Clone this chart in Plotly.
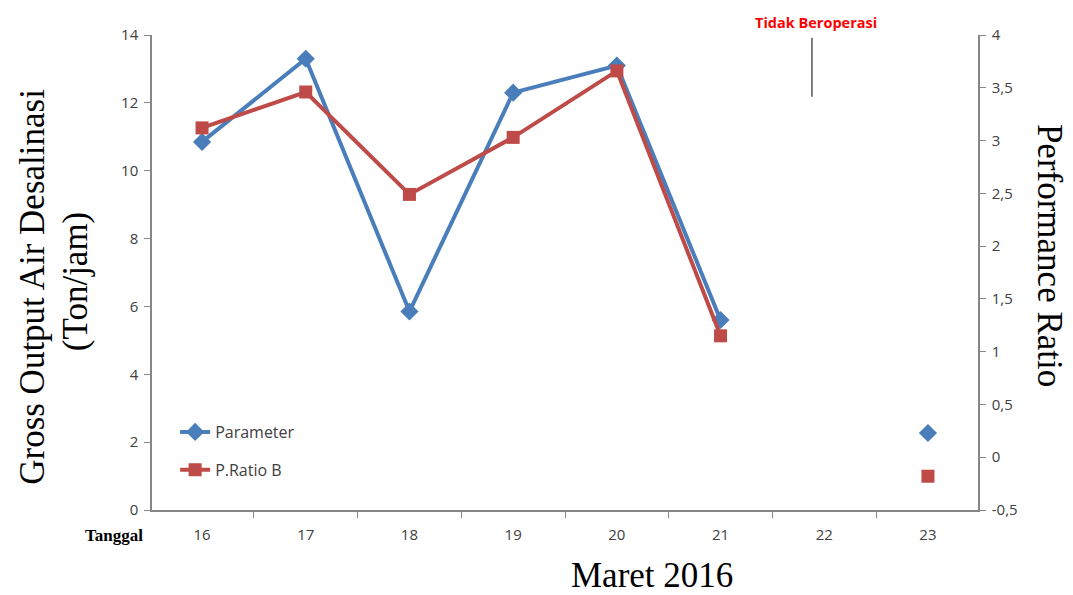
import plotly.graph_objects as go

categories = ["16", "17", "18", "19", "20", "21", "22", "23"]
parameter = [10.85, 13.3, 5.85, 12.3, 13.1, 5.6, None, 2.27]
p_ratio_b = [3.12, 3.46, 2.49, 3.03, 3.66, 1.15, None, -0.18]

left_ticks = [0, 2, 4, 6, 8, 10, 12, 14]
right_tickvals = [-0.5, 0, 0.5, 1, 1.5, 2, 2.5, 3, 3.5, 4]
right_ticktext = ["-0,5", "0", "0,5", "1", "1,5", "2", "2,5", "3", "3,5", "4"]

BLUE = "#4A7EBB"
RED = "#BE4B48"
AXIS = "#868686"
TICKFONT = dict(family="Open Sans, Lato, sans-serif", size=15, color="#404040")

fig = go.Figure()
fig.add_trace(go.Scatter(
    x=categories, y=parameter, name="Parameter", mode="lines+markers", legendgroup="a",
    line=dict(color=BLUE, width=4), marker=dict(symbol="diamond", size=14, color=BLUE),
    connectgaps=False, yaxis="y"))
fig.add_trace(go.Scatter(
    x=categories, y=p_ratio_b, name="P.Ratio B", mode="lines+markers", legendgroup="b",
    line=dict(color=RED, width=4), marker=dict(symbol="square", size=13, color=RED),
    connectgaps=False, yaxis="y2"))

fig.update_layout(
    width=1073, height=595,
    margin=dict(l=144, r=103, t=27, b=93),
    plot_bgcolor="white", paper_bgcolor="white",
    showlegend=True,
    legend=dict(x=0.028, y=0.2, xanchor="left", yanchor="top", traceorder="grouped",
                font=dict(family="Open Sans, Lato, sans-serif", size=16, color="#404040"),
                bgcolor="rgba(0,0,0,0)", tracegroupgap=14),
    xaxis=dict(type="category", showgrid=False, showline=True, linecolor=AXIS, linewidth=1.5,
               ticks="outside", tickson="boundaries", ticklen=6, tickcolor=AXIS,
               tickfont=TICKFONT, zeroline=False, ticklabelstandoff=10),
    yaxis=dict(range=[0, 14], tickvals=left_ticks, showgrid=False, showline=True,
               linecolor=AXIS, linewidth=1.5, ticks="outside", ticklen=6, tickcolor=AXIS,
               tickfont=TICKFONT, zeroline=False, ticklabelstandoff=3),
    yaxis2=dict(range=[-0.5, 4], tickvals=right_tickvals, ticktext=right_ticktext,
                overlaying="y", side="right", showgrid=False, showline=True,
                linecolor=AXIS, linewidth=1.5, ticks="outside", ticklen=6, tickcolor=AXIS,
                tickfont=TICKFONT, zeroline=False, ticklabelstandoff=3),
)

serif = "Liberation Serif, Times New Roman, serif"
fig.add_annotation(text="Gross Output Air Desalinasi", xref="paper", yref="paper",
                   x=-0.144, y=0.47, xanchor="center", yanchor="middle", textangle=-90,
                   showarrow=False, font=dict(family=serif, size=35, color="black"))
fig.add_annotation(text="(Ton/jam)", xref="paper", yref="paper",
                   x=-0.093, y=0.48, xanchor="center", yanchor="middle", textangle=-90,
                   showarrow=False, font=dict(family=serif, size=35, color="black"))
fig.add_annotation(text="Performance Ratio", xref="paper", yref="paper",
                   x=1.086, y=0.537, xanchor="center", yanchor="middle", textangle=90,
                   showarrow=False, font=dict(family=serif, size=35, color="black"))
fig.add_annotation(text="Maret 2016", xref="paper", yref="paper",
                   x=0.605, y=-0.137, xanchor="center", yanchor="middle",
                   showarrow=False, font=dict(family=serif, size=35, color="black"))
fig.add_annotation(text="<b>Tanggal</b>", xref="paper", yref="paper",
                   x=-0.009, y=-0.054, xanchor="right", yanchor="middle",
                   showarrow=False, font=dict(family=serif, size=17, color="black"))
fig.add_annotation(text="<b>Tidak Beroperasi</b>", xref="paper", yref="paper",
                   x=0.804, y=1.026, xanchor="center", yanchor="middle",
                   showarrow=False, font=dict(family="Open Sans, Lato, sans-serif", size=14.5, color="#FF0000"))
fig.add_shape(type="line", xref="paper", yref="paper", x0=0.799, x1=0.799, y0=0.87, y1=0.994,
              line=dict(color="black", width=1))

fig.write_html("out.html")
